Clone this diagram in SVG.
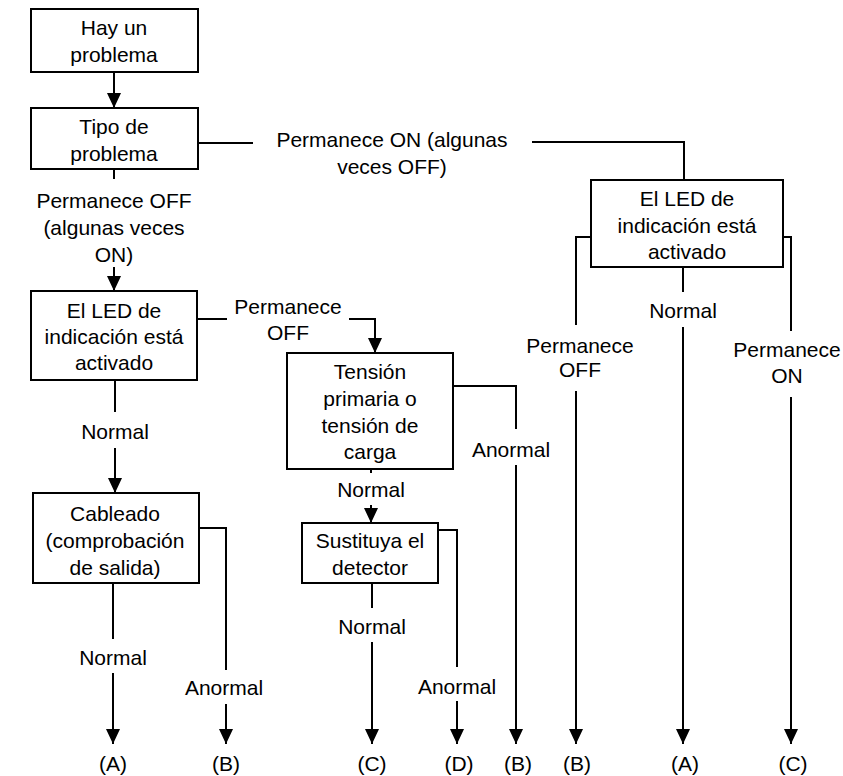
<svg xmlns="http://www.w3.org/2000/svg" width="843" height="776" viewBox="0 0 843 776">
<style>
.box{fill:#fff;stroke:#000;stroke-width:2}
.ln{fill:none;stroke:#000;stroke-width:2}
.t{font-family:"Liberation Sans",Arial,sans-serif;font-size:21px;fill:#000;text-anchor:middle}
</style>
<defs>
<marker id="ah" viewBox="0 0 15 14" refX="15" refY="7" markerWidth="15" markerHeight="14" markerUnits="userSpaceOnUse" orient="auto">
<path d="M0,0 L15,7 L0,14 z" fill="#000"/>
</marker>
</defs>
<rect width="843" height="776" fill="#fff"/>
<g id="connectors">
<path class="ln" d="M114,72 V108" marker-end="url(#ah)"/>
<path class="ln" d="M198,143 H253"/>
<path class="ln" d="M532,142 H684 V180"/>
<text class="t" x="392" y="147">Permanece ON (algunas</text>
<text class="t" x="392" y="174">veces OFF)</text>
<path class="ln" d="M114,169 V179"/>
<text class="t" x="114" y="208">Permanece OFF</text>
<text class="t" x="114" y="235">(algunas veces</text>
<text class="t" x="114" y="262">ON)</text>
<path class="ln" d="M114,267 V291" marker-end="url(#ah)"/>
<path class="ln" d="M197,319 H227"/>
<path class="ln" d="M349,319 H375 V353" marker-end="url(#ah)"/>
<text class="t" x="288" y="314">Permanece</text>
<text class="t" x="288" y="340">OFF</text>
<path class="ln" d="M115,380 V412"/>
<text class="t" x="115" y="439">Normal</text>
<path class="ln" d="M115,448 V493" marker-end="url(#ah)"/>
<path class="ln" d="M453,386 H516 V429"/>
<text class="t" x="511" y="457">Anormal</text>
<path class="ln" d="M516,465 V744" marker-end="url(#ah)"/>
<path class="ln" d="M371,469 V473"/>
<text class="t" x="371" y="497">Normal</text>
<path class="ln" d="M371,505 V523" marker-end="url(#ah)"/>
<path class="ln" d="M199,528 H226 V670"/>
<text class="t" x="224" y="695">Anormal</text>
<path class="ln" d="M226,704 V744" marker-end="url(#ah)"/>
<path class="ln" d="M113,583 V639"/>
<text class="t" x="113" y="665">Normal</text>
<path class="ln" d="M113,673 V744" marker-end="url(#ah)"/>
<path class="ln" d="M438,530 H457 V667"/>
<text class="t" x="457" y="694">Anormal</text>
<path class="ln" d="M457,701 V744" marker-end="url(#ah)"/>
<path class="ln" d="M372,583 V608"/>
<text class="t" x="372" y="634">Normal</text>
<path class="ln" d="M372,642 V744" marker-end="url(#ah)"/>
<path class="ln" d="M591,237 H576 V325"/>
<text class="t" x="580" y="353">Permanece</text>
<text class="t" x="580" y="377">OFF</text>
<path class="ln" d="M576,391 V744" marker-end="url(#ah)"/>
<path class="ln" d="M683,267 V292"/>
<text class="t" x="683" y="318">Normal</text>
<path class="ln" d="M683,327 V744" marker-end="url(#ah)"/>
<path class="ln" d="M783,237 H791 V331"/>
<text class="t" x="787" y="357">Permanece</text>
<text class="t" x="787" y="383">ON</text>
<path class="ln" d="M791,397 V744" marker-end="url(#ah)"/>
</g>
<g id="n-hay">
<rect class="box" x="31" y="9" width="167" height="63"/>
<text class="t" x="114" y="35">Hay un</text>
<text class="t" x="114" y="62">problema</text>
</g>
<g id="n-tipo">
<rect class="box" x="31" y="108" width="167" height="61"/>
<text class="t" x="114" y="134">Tipo de</text>
<text class="t" x="114" y="161">problema</text>
</g>
<g id="n-led1">
<rect class="box" x="31" y="291" width="166" height="89"/>
<text class="t" x="114" y="318">El LED de</text>
<text class="t" x="114" y="344">indicación está</text>
<text class="t" x="114" y="370">activado</text>
</g>
<g id="n-led2">
<rect class="box" x="591" y="180" width="192" height="87"/>
<text class="t" x="687" y="206">El LED de</text>
<text class="t" x="687" y="233">indicación está</text>
<text class="t" x="687" y="259">activado</text>
</g>
<g id="n-tension">
<rect class="box" x="287" y="353" width="166" height="116"/>
<text class="t" x="370" y="379">Tensión</text>
<text class="t" x="370" y="406">primaria o</text>
<text class="t" x="370" y="433">tensión de</text>
<text class="t" x="370" y="459">carga</text>
</g>
<g id="n-cableado">
<rect class="box" x="33" y="493" width="166" height="90"/>
<text class="t" x="115" y="521">Cableado</text>
<text class="t" x="115" y="548">(comprobación</text>
<text class="t" x="115" y="575">de salida)</text>
</g>
<g id="n-sustituya">
<rect class="box" x="302" y="523" width="136" height="60"/>
<text class="t" x="370" y="548">Sustituya el</text>
<text class="t" x="370" y="575">detector</text>
</g>
<g id="outcomes">
<text class="t" x="113" y="771">(A)</text>
<text class="t" x="226" y="771">(B)</text>
<text class="t" x="372" y="771">(C)</text>
<text class="t" x="459" y="771">(D)</text>
<text class="t" x="518" y="771">(B)</text>
<text class="t" x="577" y="771">(B)</text>
<text class="t" x="685" y="771">(A)</text>
<text class="t" x="793" y="771">(C)</text>
</g>
</svg>
